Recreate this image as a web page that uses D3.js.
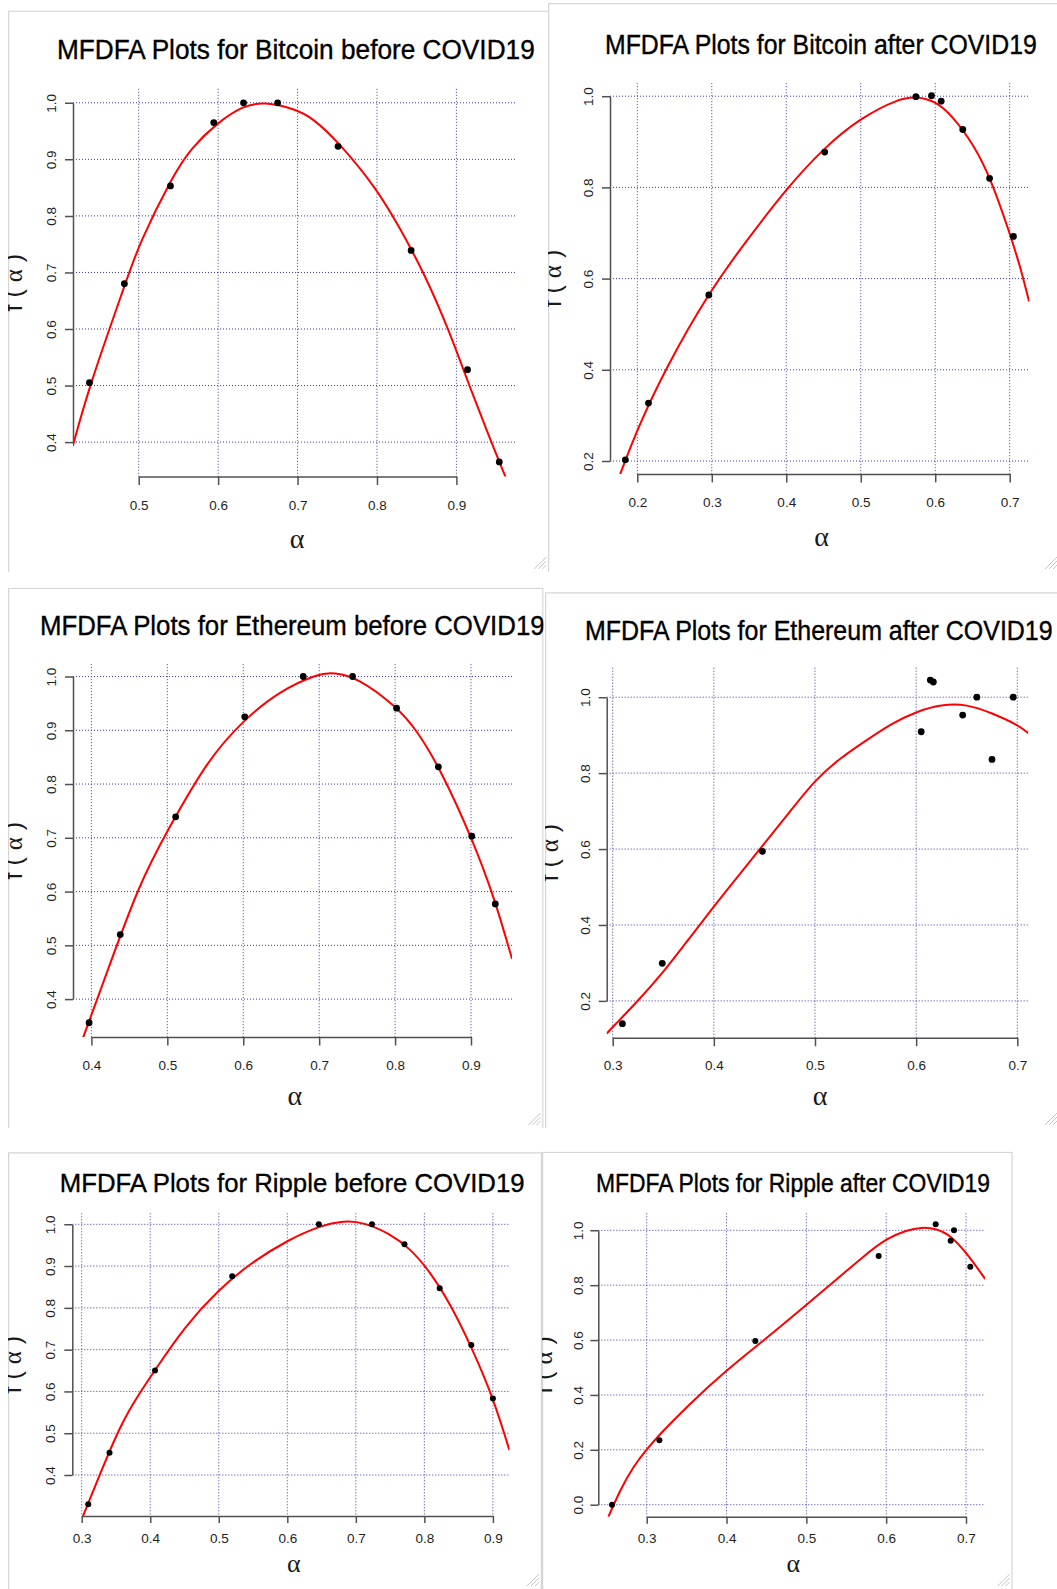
<!DOCTYPE html>
<html>
<head>
<meta charset="utf-8">
<script src="https://cdn.jsdelivr.net/npm/d3@7/dist/d3.min.js"></script>
<style>
body { margin: 0; background: #fff; }
text { font-family: "Liberation Sans", Arial, sans-serif; }
</style>
</head>
<body>
<div id="chart"></div>
<script>
var svgWidth = 1057;
var svgHeight = 1589;

// ---- values (alpha vs f(alpha)) ----

// Bitcoin before COVID19
var btcBeforeAlpha = [0.438, 0.482, 0.540, 0.5945, 0.632, 0.675, 0.751, 0.843, 0.914, 0.954];
var btcBeforeF     = [0.505, 0.680, 0.853, 0.965, 1.000, 1.000, 0.923, 0.739, 0.528, 0.365];
var btcBeforeFitAlpha = [0.417, 0.438, 0.482, 0.500, 0.544, 0.566, 0.600, 0.632, 0.658, 0.697, 0.719, 0.750, 0.800, 0.829, 0.859, 0.890, 0.914, 0.943, 0.962];
var btcBeforeFitF     = [0.393, 0.500, 0.675, 0.750, 0.874, 0.920, 0.966, 0.995, 1.002, 0.989, 0.973, 0.933, 0.848, 0.778, 0.700, 0.600, 0.508, 0.403, 0.338];
var btcBeforeXTicks = [0.5, 0.6, 0.7, 0.8, 0.9];
var btcBeforeYTicks = [0.4, 0.5, 0.6, 0.7, 0.8, 0.9, 1.0];

// Bitcoin after COVID19
var btcAfterAlpha = [0.184, 0.215, 0.296, 0.4516, 0.574, 0.595, 0.608, 0.637, 0.673, 0.705];
var btcAfterF     = [0.2025, 0.327, 0.564, 0.8775, 0.999, 1.001, 0.989, 0.927, 0.820, 0.6925];
var btcAfterFitAlpha = [0.177, 0.200, 0.237, 0.296, 0.347, 0.400, 0.450, 0.500, 0.553, 0.574, 0.600, 0.624, 0.651, 0.674, 0.700, 0.714, 0.726];
var btcAfterFitF     = [0.171, 0.270, 0.400, 0.570, 0.684, 0.797, 0.886, 0.953, 0.996, 0.999, 0.990, 0.955, 0.895, 0.822, 0.700, 0.627, 0.550];
var btcAfterXTicks = [0.2, 0.3, 0.4, 0.5, 0.6, 0.7];
var btcAfterYTicks = [0.2, 0.4, 0.6, 0.8, 1.0];

// Ethereum before COVID19
var ethBeforeAlpha = [0.397, 0.438, 0.511, 0.602, 0.679, 0.744, 0.802, 0.857, 0.901, 0.932];
var ethBeforeF     = [0.356, 0.520, 0.739, 0.925, 1.000, 1.000, 0.941, 0.832, 0.703, 0.577];
var ethBeforeFitAlpha = [0.389, 0.417, 0.463, 0.500, 0.554, 0.600, 0.646, 0.701, 0.719, 0.751, 0.801, 0.829, 0.861, 0.901, 0.930, 0.954];
var ethBeforeFitF     = [0.328, 0.436, 0.615, 0.713, 0.847, 0.918, 0.972, 1.0065, 1.007, 0.998, 0.945, 0.900, 0.824, 0.700, 0.592, 0.475];
var ethBeforeXTicks = [0.4, 0.5, 0.6, 0.7, 0.8, 0.9];
var ethBeforeYTicks = [0.4, 0.5, 0.6, 0.7, 0.8, 0.9, 1.0];

// Ethereum after COVID19
var ethAfterAlpha = [0.3096, 0.349, 0.448, 0.605, 0.614, 0.617, 0.646, 0.660, 0.675, 0.696];
var ethAfterF     = [0.140, 0.299, 0.594, 0.909, 1.045, 1.040, 0.953, 1.000, 0.836, 1.000];
var ethAfterFitAlpha = [0.294, 0.300, 0.325, 0.350, 0.375, 0.400, 0.425, 0.450, 0.475, 0.500, 0.525, 0.550, 0.575, 0.600, 0.625, 0.650, 0.675, 0.700, 0.711];
var ethAfterFitF     = [0.114, 0.131, 0.200, 0.275, 0.362, 0.449, 0.532, 0.615, 0.698, 0.782, 0.840, 0.885, 0.930, 0.962, 0.981, 0.982, 0.958, 0.928, 0.905];
var ethAfterXTicks = [0.3, 0.4, 0.5, 0.6, 0.7];
var ethAfterYTicks = [0.2, 0.4, 0.6, 0.8, 1.0];

// Ripple before COVID19
var xrpBeforeAlpha = [0.3096, 0.3406, 0.407, 0.5196, 0.646, 0.7235, 0.771, 0.8224, 0.8685, 0.900];
var xrpBeforeF     = [0.330, 0.453, 0.650, 0.8755, 1.000, 1.000, 0.952, 0.847, 0.711, 0.583];
var xrpBeforeFitAlpha = [0.3015, 0.333, 0.358, 0.384, 0.407, 0.450, 0.4995, 0.546, 0.601, 0.647, 0.683, 0.713, 0.749, 0.779, 0.810, 0.840, 0.8685, 0.900, 0.924];
var xrpBeforeFitF     = [0.300, 0.428, 0.524, 0.595, 0.651, 0.755, 0.843, 0.907, 0.9625, 0.996, 1.009, 1.004, 0.978, 0.943, 0.883, 0.803, 0.707, 0.587, 0.460];
var xrpBeforeXTicks = [0.3, 0.4, 0.5, 0.6, 0.7, 0.8, 0.9];
var xrpBeforeYTicks = [0.4, 0.5, 0.6, 0.7, 0.8, 0.9, 1.0];

// Ripple after COVID19
var xrpAfterAlpha = [0.2566, 0.3159, 0.4361, 0.5906, 0.662, 0.6808, 0.685, 0.7054];
var xrpAfterF     = [0.000, 0.2345, 0.5966, 0.9064, 1.0219, 0.9623, 1.000, 0.8675];
var xrpAfterFitAlpha = [0.252, 0.2666, 0.283, 0.300, 0.3167, 0.350, 0.400, 0.450, 0.500, 0.542, 0.571, 0.6006, 0.626, 0.644, 0.663, 0.682, 0.701, 0.724];
var xrpAfterFitF     = [-0.044, 0.053, 0.1385, 0.2017, 0.2576, 0.357, 0.491, 0.606, 0.728, 0.831, 0.904, 0.971, 1.001, 1.011, 1.007, 0.979, 0.916, 0.823];
var xrpAfterXTicks = [0.3, 0.4, 0.5, 0.6, 0.7];
var xrpAfterYTicks = [0.0, 0.2, 0.4, 0.6, 0.8, 1.0];

// ---- panel layout (each one is a screenshot of an R plot window) ----
var panels = [
  { title: "MFDFA Plots for Bitcoin before COVID19",
    alpha: btcBeforeAlpha, f: btcBeforeF, fitAlpha: btcBeforeFitAlpha, fitF: btcBeforeFitF,
    xTicks: btcBeforeXTicks, yTicks: btcBeforeYTicks,
    frame: {l: 8, t: 10.4, r: 549.3, b: 572}, plot: {l: 73, t: 88.8, r: 516, b: 476.5},
    xRange: [138.7, 456.4], yRange: [442.1, 102.8],
    titleX: 57, titleY: 59.2, titleW: 478, titleSize: 28,
    xTickDy: 33, tickLen: 8.5, yTickOff: 17, xLabX: 297, xLabY: 548, yLabX: 22, alphaSize: 28 },
  { title: "MFDFA Plots for Bitcoin after COVID19",
    alpha: btcAfterAlpha, f: btcAfterF, fitAlpha: btcAfterFitAlpha, fitF: btcAfterFitF,
    xTicks: btcAfterXTicks, yTicks: btcAfterYTicks,
    frame: {l: 548, t: 3, r: 1060, b: 572}, plot: {l: 610, t: 83.2, r: 1029.3, b: 473.9},
    xRange: [637.3, 1009.7], yRange: [461, 96.2],
    titleX: 605, titleY: 53.6, titleW: 432, titleSize: 28,
    xTickDy: 33.5, tickLen: 8.5, yTickOff: 17, xLabX: 821.7, xLabY: 546, yLabX: 561, alphaSize: 28 },
  { title: "MFDFA Plots for Ethereum before COVID19",
    alpha: ethBeforeAlpha, f: ethBeforeF, fitAlpha: ethBeforeFitAlpha, fitF: ethBeforeFitF,
    xTicks: ethBeforeXTicks, yTicks: ethBeforeYTicks,
    frame: {l: 8, t: 587.7, r: 543.5, b: 1128}, plot: {l: 73, t: 664.2, r: 512, b: 1037},
    xRange: [91.4, 471], yRange: [999.1, 676.5],
    titleX: 40, titleY: 635.4, titleW: 505, titleSize: 28,
    xTickDy: 33.4, tickLen: 8.5, yTickOff: 17, xLabX: 294.8, xLabY: 1105, yLabX: 22, alphaSize: 28 },
  { title: "MFDFA Plots for Ethereum after COVID19",
    alpha: ethAfterAlpha, f: ethAfterF, fitAlpha: ethAfterFitAlpha, fitF: ethAfterFitF,
    xTicks: ethAfterXTicks, yTicks: ethAfterYTicks,
    frame: {l: 545, t: 592.3, r: 1060, b: 1128}, plot: {l: 606.7, t: 667.7, r: 1028.3, b: 1037.7},
    xRange: [612.7, 1017.3], yRange: [1000.9, 697.2],
    titleX: 585, titleY: 640.3, titleW: 468, titleSize: 28,
    xTickDy: 32.7, tickLen: 8.5, yTickOff: 17, xLabX: 820, xLabY: 1105, yLabX: 558, alphaSize: 28 },
  { title: "MFDFA Plots for Ripple before COVID19",
    alpha: xrpBeforeAlpha, f: xrpBeforeF, fitAlpha: xrpBeforeFitAlpha, fitF: xrpBeforeFitF,
    xTicks: xrpBeforeXTicks, yTicks: xrpBeforeYTicks,
    frame: {l: 8, t: 1152.3, r: 542, b: 1589}, plot: {l: 72.3, t: 1213.3, r: 509.6, b: 1516},
    xRange: [81.7, 492.9], yRange: [1475, 1224.3],
    titleX: 59.8, titleY: 1191.7, titleW: 465, titleSize: 25.5,
    xTickDy: 26.9, tickLen: 7, yTickOff: 17, xLabX: 293.7, xLabY: 1572, yLabX: 21, alphaSize: 26 },
  { title: "MFDFA Plots for Ripple after COVID19",
    alpha: xrpAfterAlpha, f: xrpAfterF, fitAlpha: xrpAfterFitAlpha, fitF: xrpAfterFitF,
    xTicks: xrpAfterXTicks, yTicks: xrpAfterYTicks,
    frame: {l: 542, t: 1151.7, r: 1012.7, b: 1589}, plot: {l: 598.3, t: 1213.3, r: 985, b: 1516.7},
    xRange: [646.7, 966], yRange: [1504.7, 1230.3],
    titleX: 596, titleY: 1191.7, titleW: 394, titleSize: 25.5,
    xTickDy: 26.2, tickLen: 7, yTickOff: 15, xLabX: 793.3, xLabY: 1572, yLabX: 552, alphaSize: 26 }
];

var svg = d3.select("#chart")
  .append("svg")
  .attr("width", svgWidth)
  .attr("height", svgHeight);

var defs = svg.append("defs");

panels.forEach(function(p, i) {
  var fr = p.frame, pl = p.plot;

  // clip for the whole window and for the plotting region
  defs.append("clipPath").attr("id", "frame" + i)
    .append("rect")
    .attr("x", fr.l).attr("y", fr.t)
    .attr("width", fr.r - fr.l).attr("height", fr.b - fr.t);
  defs.append("clipPath").attr("id", "plot" + i)
    .append("rect")
    .attr("x", pl.l).attr("y", pl.t)
    .attr("width", pl.r - pl.l).attr("height", pl.b - pl.t);

  var g = svg.append("g").attr("clip-path", "url(#frame" + i + ")");

  g.append("rect")
    .attr("x", fr.l).attr("y", fr.t)
    .attr("width", fr.r - fr.l).attr("height", fr.b - fr.t)
    .attr("fill", "#fff");

  // window border (left, top, right) and the resize grip
  g.append("path")
    .attr("d", `M${fr.l + 0.5},${fr.b}V${fr.t + 0.5}H${fr.r - 0.5}V${fr.b}`)
    .attr("fill", "none")
    .attr("stroke", "#d6d6d6")
    .attr("stroke-width", 1.5);
  [4, 8, 12].forEach(function(k) {
    g.append("line")
      .attr("x1", fr.r - 3).attr("y1", fr.b - 3 - k)
      .attr("x2", fr.r - 3 - k).attr("y2", fr.b - 3)
      .attr("stroke", "#c4c4c4")
      .attr("stroke-width", 1);
  });

  var x = d3.scaleLinear()
    .domain([p.xTicks[0], p.xTicks[p.xTicks.length - 1]])
    .range(p.xRange);
  var y = d3.scaleLinear()
    .domain([p.yTicks[0], p.yTicks[p.yTicks.length - 1]])
    .range(p.yRange);

  // title: size it so its natural width is the one seen, then stretch it vertically
  var title = g.append("text")
    .style("font-size", p.titleSize + "px")
    .attr("fill", "#000")
    .attr("stroke", "#000")
    .attr("stroke-width", 0.35)
    .text(p.title);
  var sx = p.titleW / title.node().getComputedTextLength();
  title.style("font-size", (p.titleSize * sx) + "px")
    .attr("transform", `translate(${p.titleX}, ${p.titleY}) scale(1, ${1 / sx})`);

  // dotted grid at the tick positions
  var grid = g.append("g");
  grid.selectAll(".gx")
    .data(p.xTicks)
    .enter()
    .append("line")
    .attr("x1", d => x(d)).attr("x2", d => x(d))
    .attr("y1", pl.t).attr("y2", pl.b);
  grid.selectAll(".gy")
    .data(p.yTicks)
    .enter()
    .append("line")
    .attr("x1", pl.l).attr("x2", pl.r)
    .attr("y1", d => y(d)).attr("y2", d => y(d));
  grid.selectAll("line")
    .attr("stroke", "#3a3aa0")
    .attr("stroke-width", 1)
    .attr("stroke-dasharray", "1,2");

  // axes
  var xAxis = g.append("g")
    .attr("transform", `translate(0, ${pl.b})`)
    .call(d3.axisBottom(x).tickValues(p.xTicks).tickSize(p.tickLen).tickSizeOuter(0).tickFormat(d3.format(".1f")));
  xAxis.selectAll("text")
    .attr("y", p.xTickDy)
    .attr("dy", null);

  var yAxis = g.append("g")
    .attr("transform", `translate(${pl.l}, 0)`)
    .call(d3.axisLeft(y).tickValues(p.yTicks).tickSize(8).tickSizeOuter(0).tickFormat(d3.format(".1f")));
  yAxis.selectAll("text")
    .attr("transform", "rotate(-90)")
    .attr("text-anchor", "middle")
    .attr("x", 0)
    .attr("y", -p.yTickOff)
    .attr("dy", null);

  [xAxis, yAxis].forEach(function(ax) {
    ax.attr("font-family", null).attr("font-size", null);
    ax.select(".domain").attr("stroke", "#505050").attr("stroke-width", 1.5);
    ax.selectAll(".tick line").attr("stroke", "#505050").attr("stroke-width", 1.5);
    ax.selectAll("text")
      .style("font-size", "13.5px")
      .attr("fill", "#1e1e1e");
  });

  // axis titles
  g.append("text")
    .attr("x", p.xLabX)
    .attr("y", p.xLabY)
    .attr("text-anchor", "middle")
    .style("font-family", "'Liberation Serif', 'DejaVu Serif', serif")
    .style("font-size", p.alphaSize + "px")
    .attr("fill", "#1a1a1a")
    .text("α");

  var yl = g.append("text")
    .attr("transform", `translate(${p.yLabX}, ${(pl.t + pl.b) / 2}) rotate(-90)`)
    .attr("text-anchor", "middle")
    .style("font-size", "25px")
    .style("white-space", "pre")
    .attr("fill", "#1a1a1a");
  yl.append("tspan").text("f ( ");
  yl.append("tspan").style("font-family", "'Liberation Serif', serif").text("α");
  yl.append("tspan").text(" )");

  // fitted curve and the spectrum points
  var fit = p.fitAlpha.map((a, j) => [a, p.fitF[j]]);
  var line = d3.line()
    .x(d => x(d[0]))
    .y(d => y(d[1]))
    .curve(d3.curveBasis);

  var inner = g.append("g").attr("clip-path", "url(#plot" + i + ")");
  inner.append("path")
    .datum(fit)
    .attr("d", line)
    .attr("fill", "none")
    .attr("stroke", "#ff0000")
    .attr("stroke-width", 2);

  inner.selectAll("circle")
    .data(p.alpha.map((a, j) => [a, p.f[j]]))
    .enter()
    .append("circle")
    .attr("cx", d => x(d[0]))
    .attr("cy", d => y(d[1]))
    .attr("r", i < 4 ? 3.4 : 3)
    .attr("fill", "#000");
});
</script>
</body>
</html>
